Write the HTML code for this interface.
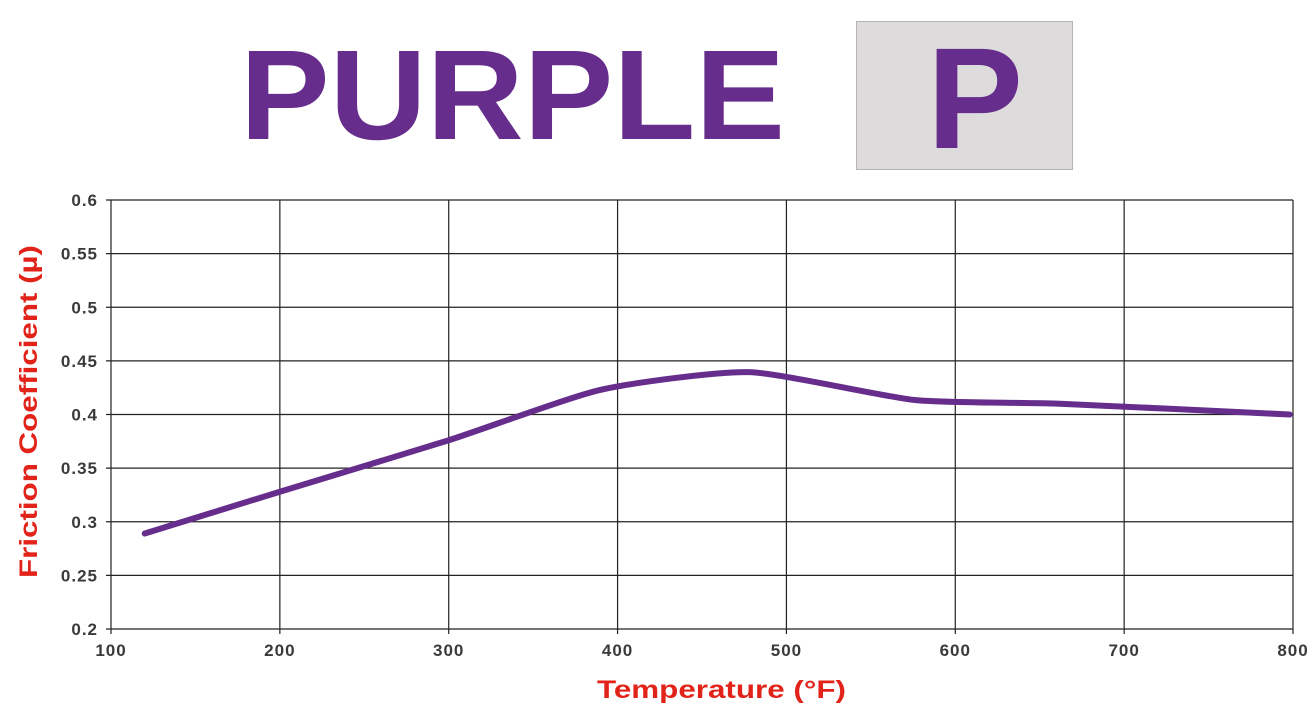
<!DOCTYPE html>
<html><head><meta charset="utf-8"><style>
html,body{margin:0;padding:0;background:#fff;}
svg{display:block;font-family:"Liberation Sans",sans-serif;}
</style></head><body>
<svg id="c" width="1315" height="712" viewBox="0 0 1315 712">
<text x="240" y="139" font-size="128" font-weight="bold" fill="#662d8c" textLength="545" lengthAdjust="spacingAndGlyphs">PURPLE</text>
<rect x="856.5" y="21.5" width="216" height="148" fill="#dddbdc" stroke="#b5b3b4"/>
<text x="927" y="148" font-size="144" font-weight="bold" fill="#662d8c" textLength="96" lengthAdjust="spacingAndGlyphs">P</text>
<g id="grid"></g>
<g id="series"></g>
<text x="597" y="698" font-size="25" font-weight="bold" fill="#e2231a" textLength="249" lengthAdjust="spacingAndGlyphs">Temperature (°F)</text>
<text transform="translate(37,578) rotate(-90)" font-size="25" font-weight="bold" fill="#e2231a" textLength="333" lengthAdjust="spacingAndGlyphs">Friction Coefficient (µ)</text>
</svg>
<script>
const xTicks=[100,200,300,400,500,600,700,800];
const yTicks=[0.2,0.25,0.3,0.35,0.4,0.45,0.5,0.55,0.6];
const yTickLabels=["0.2","0.25","0.3","0.35","0.4","0.45","0.5","0.55","0.6"];
const temps=[120,200,300,390,478,576,662,798];
const mu=[0.289,0.328,0.376,0.423,0.4395,0.4135,0.41,0.40];
const NS="http://www.w3.org/2000/svg";
const X0=111,X1=1293,Y0=629,Y1=200;
function sx(v){return X0+(v-100)/700*(X1-X0);}
function sy(v){return Y0-(v-0.2)/0.4*(Y0-Y1);}
function mk(tag,attrs,parent){const e=document.createElementNS(NS,tag);for(const k in attrs)e.setAttribute(k,attrs[k]);parent.appendChild(e);return e;}
const g=document.getElementById('grid');
yTicks.forEach((v,i)=>{
 const l=mk('line',{x1:106,x2:X1,y1:sy(v),y2:sy(v),stroke:'#222','stroke-width':1.2},g);
 
 
 const t=mk('text',{x:98,y:sy(v)+6,'text-anchor':'end','font-size':17,'font-weight':'bold',fill:'#3a3a3a','letter-spacing':1},g);
 t.textContent=yTickLabels[i];
 
 
});
xTicks.forEach(v=>{
 const l=mk('line',{x1:sx(v),x2:sx(v),y1:Y1,y2:Y0+5,stroke:'#222','stroke-width':1.2},g);
 
 
 const t=mk('text',{x:sx(v),y:656,'text-anchor':'middle','font-size':17,'font-weight':'bold',fill:'#3a3a3a','letter-spacing':1},g);
 t.textContent=String(v);
 
 
});
const pts=temps.map((t,i)=>[sx(t),sy(mu[i])]);
let d='M'+pts[0][0]+','+pts[0][1];
const k=10;
for(let i=0;i<pts.length-1;i++){
 const p0=pts[Math.max(0,i-1)],p1=pts[i],p2=pts[i+1],p3=pts[Math.min(pts.length-1,i+2)];
 const c1x=p1[0]+(p2[0]-p0[0])/k,c1y=p1[1]+(p2[1]-p0[1])/k;
 const c2x=p2[0]-(p3[0]-p1[0])/k,c2y=p2[1]-(p3[1]-p1[1])/k;
 d+=' C'+c1x+','+c1y+' '+c2x+','+c2y+' '+p2[0]+','+p2[1];
}
const line=mk('path',{d:d,fill:'none',stroke:'#662d8c','stroke-width':6,'stroke-linecap':'round','stroke-linejoin':'round'},document.getElementById('series'));


</script>
</body></html>
